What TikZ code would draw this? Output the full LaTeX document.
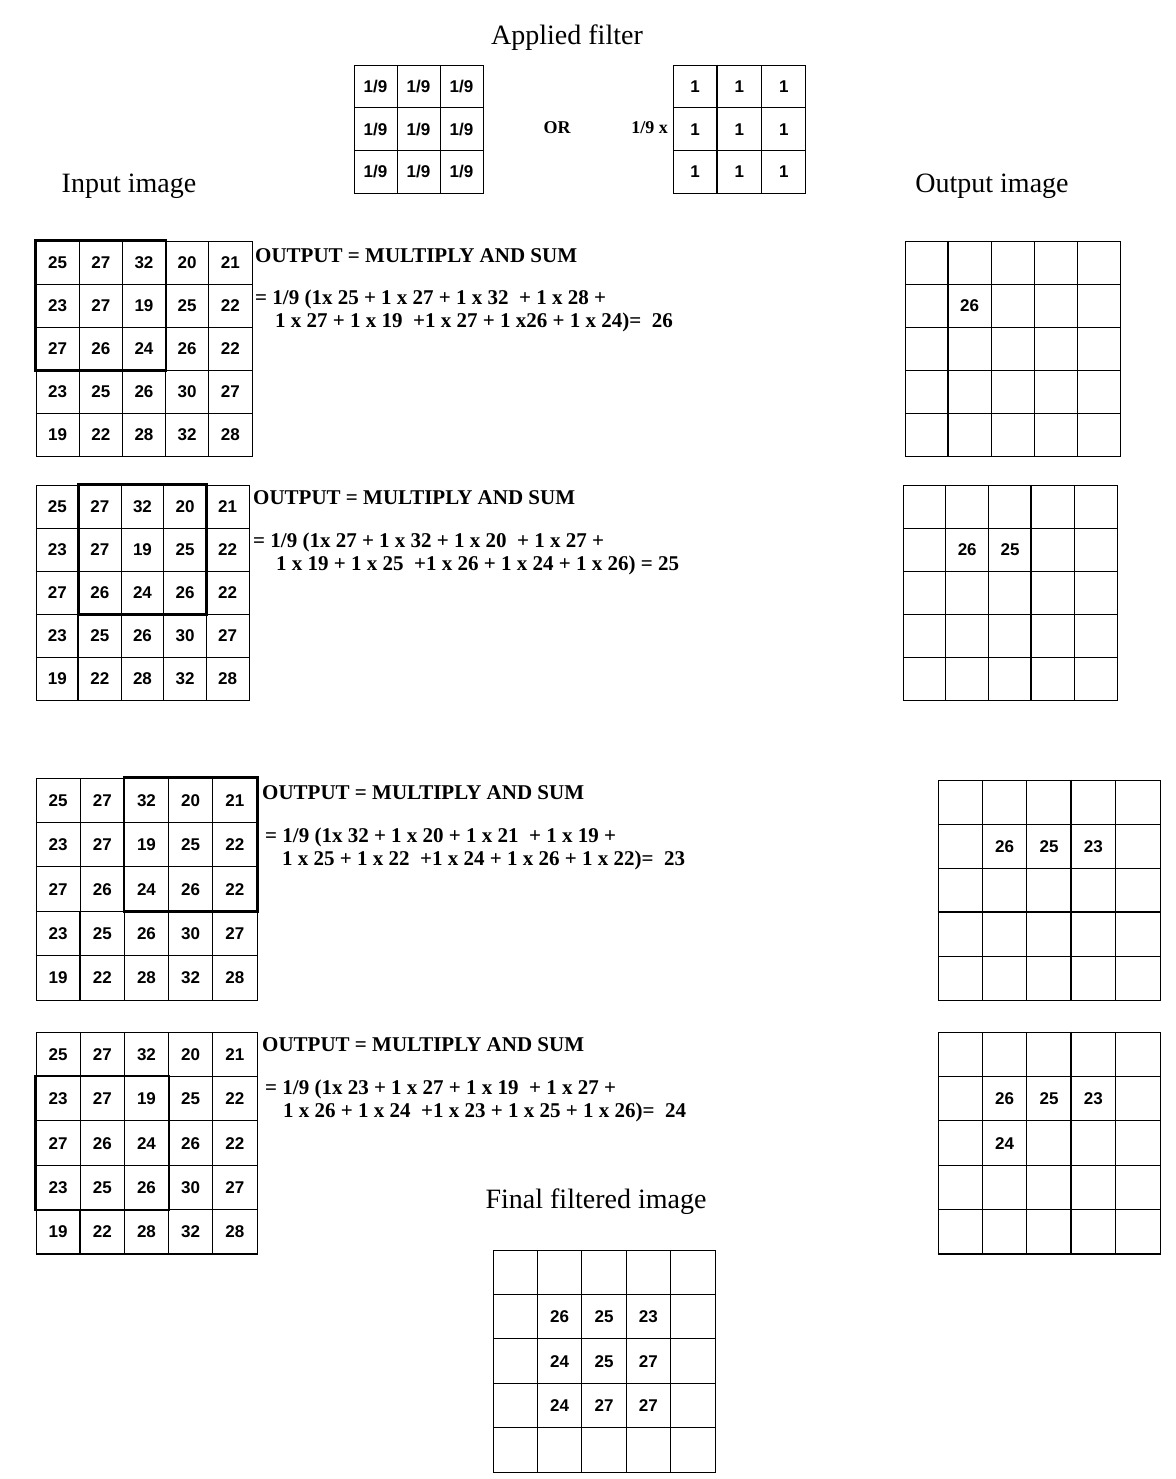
\documentclass[tikz,border=0pt]{standalone}
\usepackage{fontspec}
\setmainfont{Liberation Serif}
\newfontfamily\digitfont{Liberation Sans}
\usetikzlibrary{positioning}

\newcommand{\pixgrid}[7]{%
  \foreach \v [count=\i from 0] in {#7} {
    \pgfmathtruncatemacro{\r}{\i/#2}
    \pgfmathtruncatemacro{\c}{mod(\i,#2)}
    \node[cell,minimum width=#5pt,minimum height=#6pt] (#1-\r-\c) at ({#3+(\c+0.5)*#5},{#4+(\r+0.5)*#6}) {\v};
  }}

\begin{document}
\begin{tikzpicture}[x=1pt,y=-1pt,
  cell/.style={draw,line width=0.9pt,inner sep=0pt,text height=12.2pt,text depth=0pt,font=\digitfont\bfseries\fontsize{17}{17}\selectfont},
  window/.style={line width=2.8pt},
  seam/.style={line width=2pt},
  title/.style={anchor=base,inner sep=0pt,font=\fontsize{28}{28}\selectfont},
  rule/.style={anchor=base west,inner sep=0pt,font=\bfseries\fontsize{21}{21}\selectfont},
  sum/.style={anchor=base west,inner sep=0pt,font=\bfseries\fontsize{21}{21}\selectfont}]
\fill[white] (0,0) rectangle (1175,1479);
\useasboundingbox (0,0) rectangle (1175,1479);

\node[title] (tfilter) at (567,45) {Applied filter};
\node[title] (tin) at (129,193) {Input image};
\node[title] (tout) at (992,193) {Output image};
\node[title] (tfinal) at (596,1208) {Final filtered image};

\pixgrid{fa}{3}{354}{65}{43}{42.7}{1/9,1/9,1/9,1/9,1/9,1/9,1/9,1/9,1/9}
\pixgrid{fb}{3}{673}{65}{44.3}{42.7}{1,1,1,1,1,1,1,1,1}
\draw[seam] (fb-0-1.north west) -- (fb-2-1.south west);
\node[anchor=base,font=\bfseries\fontsize{18}{18}\selectfont] (or) at (557,134) {OR};
\node[anchor=base east,inner sep=0pt,font=\bfseries\fontsize{18}{18}\selectfont] (ninth) at (668,134) {1/9 x};

\pixgrid{ia}{5}{36}{241}{43.2}{43}{25,27,32,20,21,23,27,19,25,22,27,26,24,26,22,23,25,26,30,27,19,22,28,32,28}
\draw[window] (ia-0-0.north west) rectangle (ia-2-2.south east);
\node[rule] (ra) at (255,262) {OUTPUT = MULTIPLY AND SUM};
\node[sum] (sa1) at (255,304) {= 1/9 (1x 25 + 1 x 27 + 1 x 32 \ + 1 x 28 +};
\node[sum] (sa2) at (275,327) {1 x 27 + 1 x 19 \ +1 x 27 + 1 x26 + 1 x 24)= \ 26};
\pixgrid{oa}{5}{905}{241}{43}{43}{{},{},{},{},{},{},26,{},{},{},{},{},{},{},{},{},{},{},{},{},{},{},{},{},{}}
\draw[seam] (oa-0-1.north west) -- (oa-4-1.south west);

\pixgrid{ib}{5}{36}{485}{42.6}{43}{25,27,32,20,21,23,27,19,25,22,27,26,24,26,22,23,25,26,30,27,19,22,28,32,28}
\draw[window] (ib-0-1.north west) rectangle (ib-2-3.south east);
\draw[seam] (ib-3-1.north west) -- (ib-4-1.south west);
\node[rule] (rb) at (253,504) {OUTPUT = MULTIPLY AND SUM};
\node[sum] (sb1) at (253,547) {= 1/9 (1x 27 + 1 x 32 + 1 x 20 \ + 1 x 27 +};
\node[sum] (sb2) at (276,570) {1 x 19 + 1 x 25 \ +1 x 26 + 1 x 24 + 1 x 26) = 25};
\pixgrid{ob}{5}{903}{485}{42.8}{43}{{},{},{},{},{},{},26,25,{},{},{},{},{},{},{},{},{},{},{},{},{},{},{},{},{}}
\draw[seam] (ob-0-3.north west) -- (ob-4-3.south west);

\pixgrid{ic}{5}{36}{778}{44.2}{44.4}{25,27,32,20,21,23,27,19,25,22,27,26,24,26,22,23,25,26,30,27,19,22,28,32,28}
\draw[window] (ic-0-2.north west) rectangle (ic-2-4.south east);
\draw[seam] (ic-3-1.north west) -- (ic-4-1.south west);
\node[rule] (rc) at (262,799) {OUTPUT = MULTIPLY AND SUM};
\node[sum] (sc1) at (265,842) {= 1/9 (1x 32 + 1 x 20 + 1 x 21 \ + 1 x 19 +};
\node[sum] (sc2) at (282,865) {1 x 25 + 1 x 22 \ +1 x 24 + 1 x 26 + 1 x 22)= \ 23};
\pixgrid{oc}{5}{938}{780}{44.4}{44}{{},{},{},{},{},{},26,25,23,{},{},{},{},{},{},{},{},{},{},{},{},{},{},{},{}}
\draw[seam] (oc-0-3.north west) -- (oc-4-3.south west);
\draw[seam] (oc-3-0.north west) -- (oc-3-4.north east);

\pixgrid{id}{5}{36}{1032}{44.2}{44.4}{25,27,32,20,21,23,27,19,25,22,27,26,24,26,22,23,25,26,30,27,19,22,28,32,28}
\draw[window] (id-1-0.north west) rectangle (id-3-2.south east);
\draw[seam] (id-4-1.north west) -- (id-4-1.south west);
\draw[seam] (id-4-0.south west) -- (id-4-4.south east);
\node[rule] (rd) at (262,1051) {OUTPUT = MULTIPLY AND SUM};
\node[sum] (sd1) at (265,1094) {= 1/9 (1x 23 + 1 x 27 + 1 x 19 \ + 1 x 27 +};
\node[sum] (sd2) at (283,1117) {1 x 26 + 1 x 24 \ +1 x 23 + 1 x 25 + 1 x 26)= \ 24};
\pixgrid{od}{5}{938}{1032}{44.4}{44.4}{{},{},{},{},{},{},26,25,23,{},{},24,{},{},{},{},{},{},{},{},{},{},{},{},{}}
\draw[seam] (od-0-3.north west) -- (od-4-3.south west);
\draw[seam] (od-4-0.south west) -- (od-4-4.south east);

\pixgrid{ff}{5}{493}{1250}{44.4}{44.4}{{},{},{},{},{},{},26,25,23,{},{},24,25,27,{},{},24,27,27,{},{},{},{},{},{}}
\end{tikzpicture}
\end{document}
